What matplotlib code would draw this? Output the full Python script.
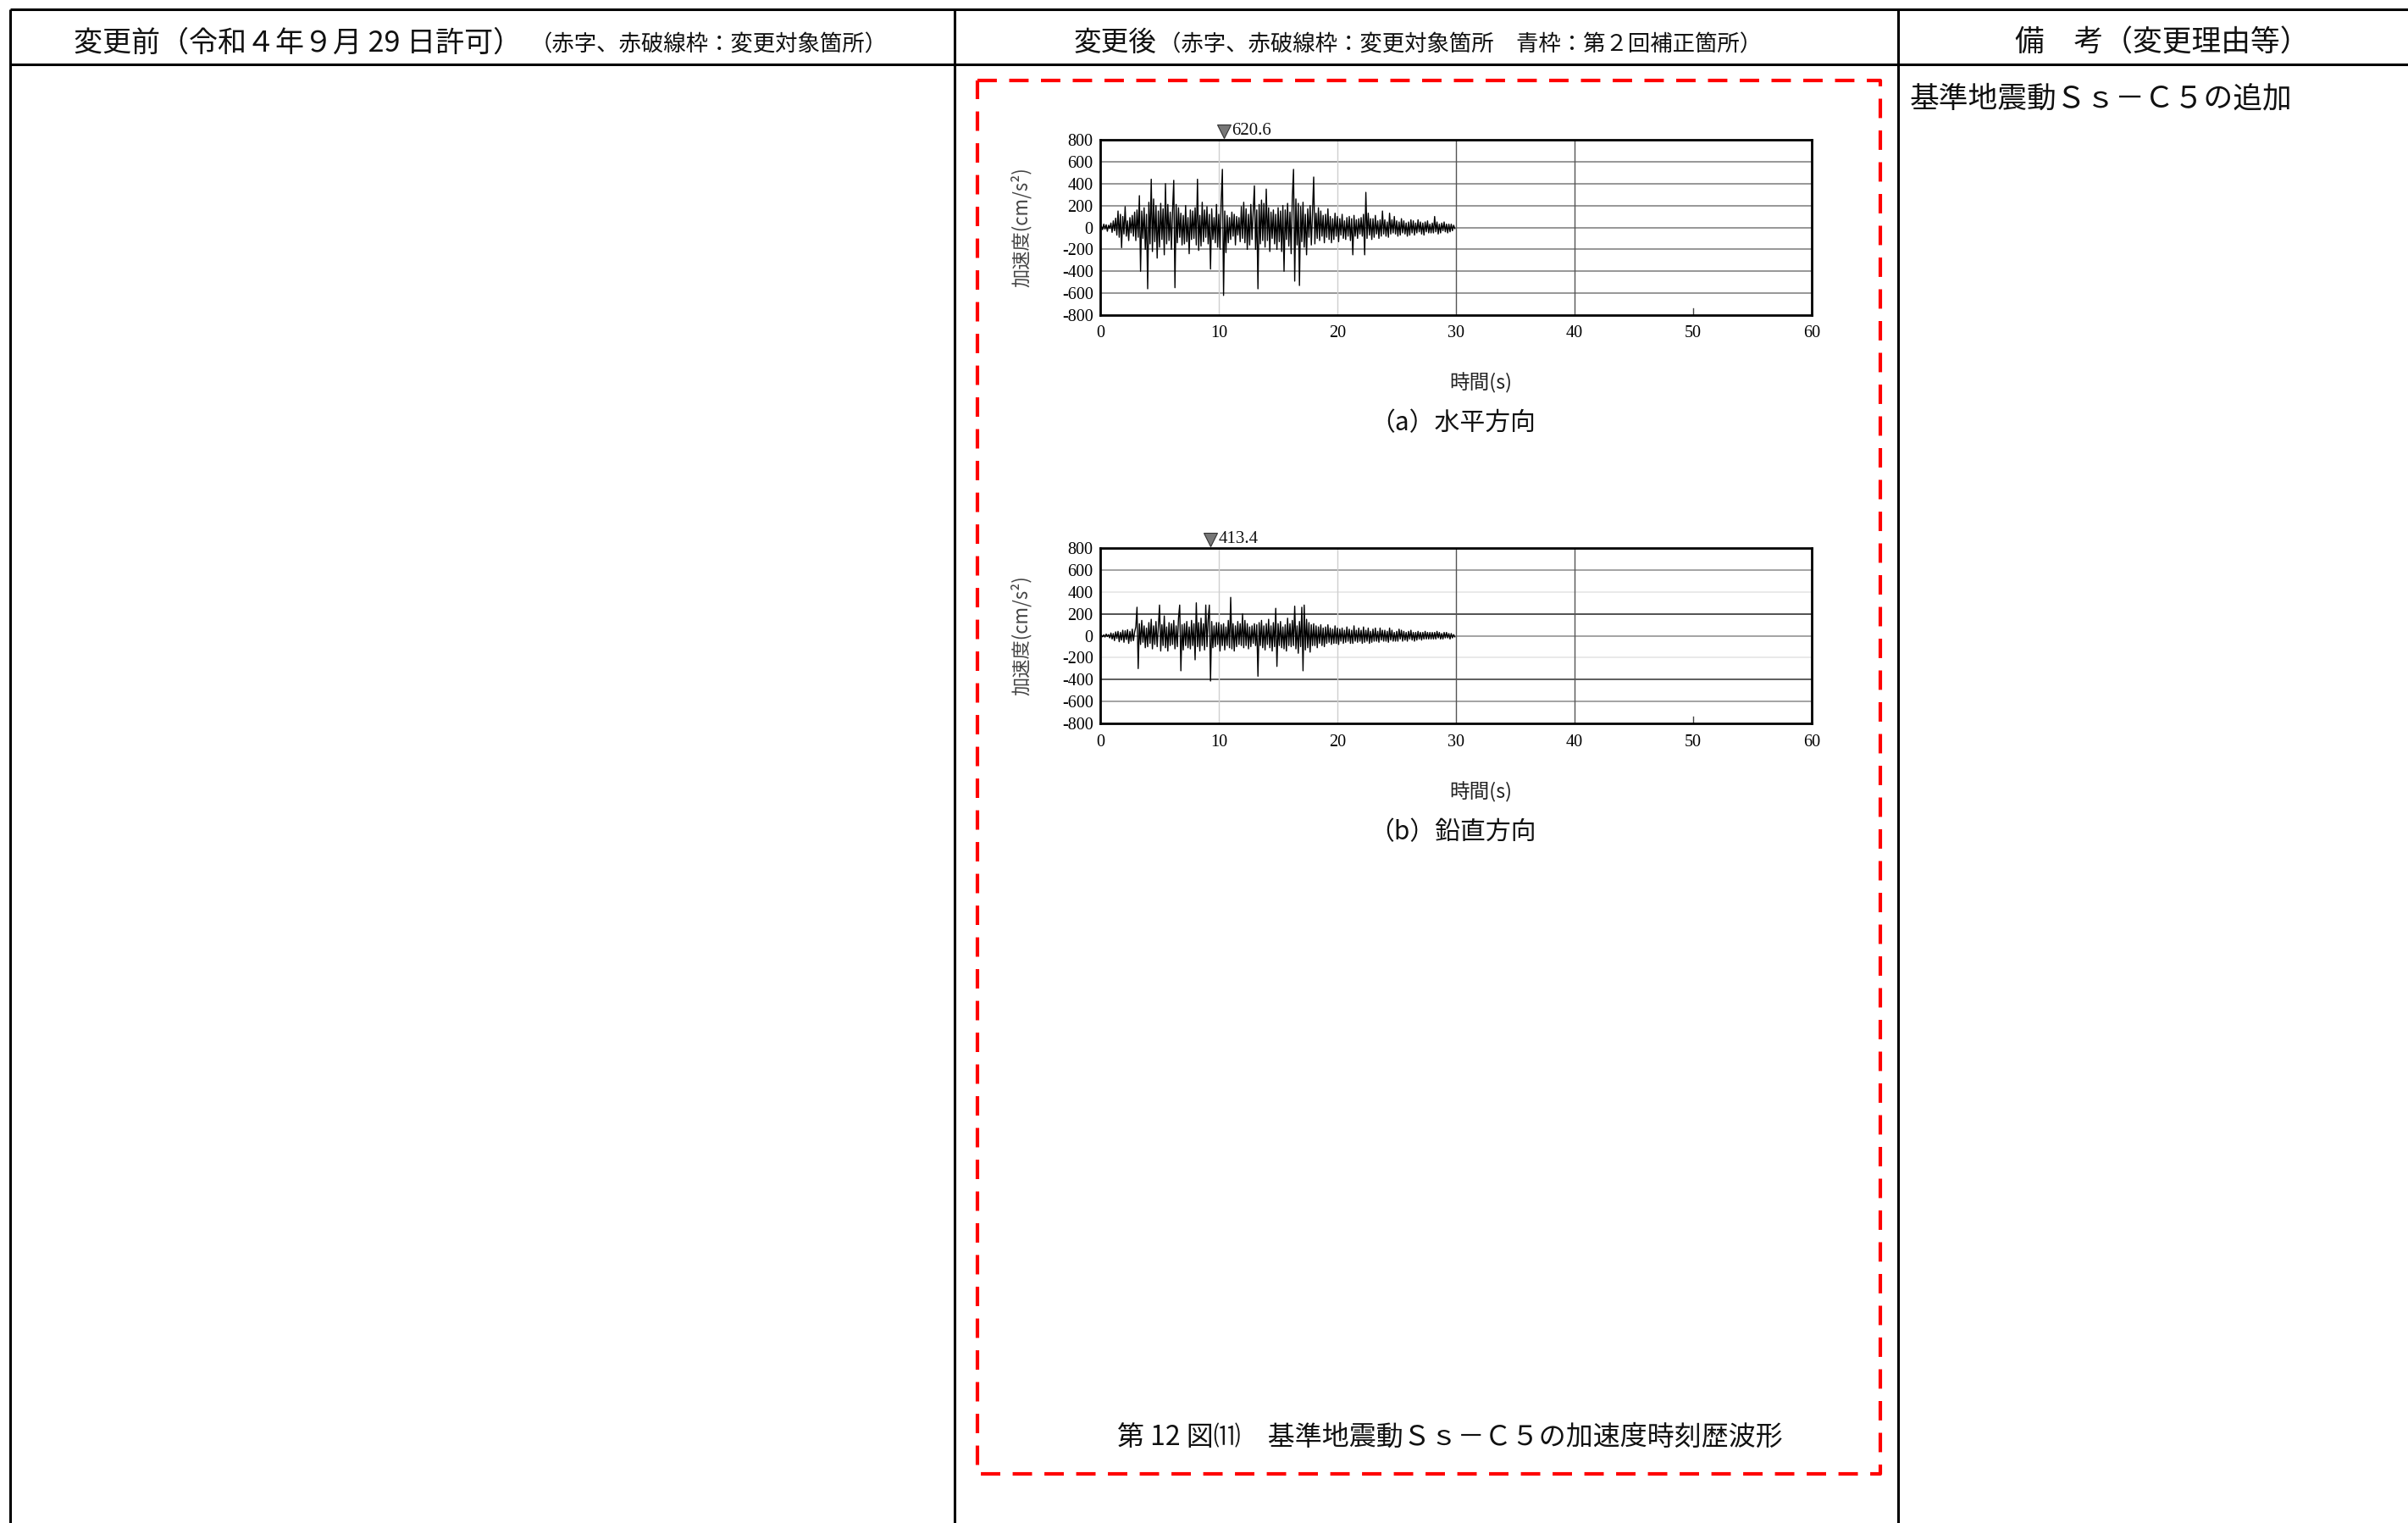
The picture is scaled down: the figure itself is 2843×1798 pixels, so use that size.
import numpy as np
import matplotlib
matplotlib.use("Agg")
import matplotlib.pyplot as plt

plt.rcParams['font.family'] = ['Noto Sans CJK JP', 'DejaVu Sans']

# ---------------- data ----------------
dt = 0.1  # sampling step (s)
horizontal_acc = [
    0, 12, -20, 30, -15, 25, -35, 20, -10, 40,
    -45, 60, -30, 85, -70, 150, -90, 120, -185, 100,
    -60, 190, -80, 60, -120, 90, -50, 110, -80, 140,
    -120, 160, -90, 290, -400, 150, -100, 180, -200, 120,
    -560, 230, -150, 440, -220, 260, -130, 200, -280, 150,
    -180, 220, -110, 170, -250, 400, -150, 210, -120, 140,
    -200, 160, 430, -550, 210, -140, 180, -90, 130, -160,
    110, -150, 200, -130, 90, -240, 160, -110, 150, -100,
    180, -160, 440, -210, 110, -170, 230, -130, 160, -90,
    190, -150, 120, -380, 170, -110, 90, -140, 210, -180,
    120, -200, 240, 530, -620.6, 150, -230, 110, -140, 90,
    -110, 140, -80, 120, -160, 100, -70, 90, -130, 190,
    -100, 230, -140, 170, -200, 120, -160, 210, -110, 150,
    380, -200, 160, -560, 210, -150, 250, -120, 220, -180,
    350, -120, 180, -220, 140, -100, 160, -150, 120, -200,
    180, -130, 150, -220, 200, -400, 160, -110, 220, -170,
    140, -240, 280, 530, -490, 260, -160, 220, -530, 190,
    -130, 230, -180, 120, -250, 170, -90, 200, -160, 130,
    460, -150, 130, -100, 180, -120, 150, -80, 110, -140,
    120, -90, 170, -110, 100, -140, 80, -110, 130, -80,
    100, -130, 80, -70, 120, -100, 60, -110, 90, -80,
    100, -120, 80, -250, 110, -80, 70, -100, 80, -60,
    90, -80, 120, -250, 320, -100, 130, -70, 80, -110,
    80, -90, 110, -60, 60, -100, 70, -80, 150, -60,
    70, -80, 50, -90, 130, -60, 70, -50, 100, -60,
    60, -80, 50, -70, 80, -50, 60, -60, 40, -80,
    50, -70, 70, -50, 60, -70, 40, -50, 70, -40,
    50, -60, 40, -70, 50, -40, 60, -50, 30, -50,
    40, -50, 100, -40, 50, -60, 30, -50, 40, -30,
    50, -40, 30, -50, 30, -40, 30, -30, 20, -10,
]
vertical_acc = [
    0, 5, -10, 8, -12, 15, -8, 10, -20, 25,
    -30, 20, -45, 35, -25, 40, -55, 30, -40, 50,
    -60, 45, -35, 55, -70, 40, -50, 60, -45, 35,
    80, 260, -300, 110, -80, 140, -60, 90, -110, 70,
    -100, 120, -70, 150, -120, 90, -80, 130, -100, 80,
    280, -140, 100, -90, 180, -110, 80, -140, 120, -90,
    110, -80, 140, -120, 90, -100, 160, 280, -320, 100,
    -130, 110, -90, 130, -110, 80, -120, 140, -90, 110,
    -220, 300, -100, 120, -140, 160, -90, 110, -130, 280,
    -100, 150, 280, -413.4, 130, -110, 90, -100, 120, -80,
    120, -140, 100, -90, 110, -130, 80, -90, 140, -110,
    350, -120, 110, -140, 90, -100, 130, -80, 110, -90,
    200, -110, 140, -90, 110, -120, 80, -100, 90, -70,
    110, -90, 100, -370, 120, -90, 140, -110, 90, -130,
    110, -80, 150, -110, 90, -140, 120, -100, 250, -280,
    110, -90, 130, -110, 80, -120, 100, -140, 160, -90,
    110, -100, 140, -90, 270, -120, 90, -160, 130, -100,
    260, -320, 280, -130, 150, -110, 120, -150, 100, -90,
    110, -90, 90, -110, 80, -70, 100, -90, 70, -100,
    80, -70, 100, -60, 70, -80, 60, -70, 90, -70,
    70, -80, 60, -50, 70, -70, 50, -60, 80, -50,
    60, -70, 50, -70, 90, -50, 50, -60, 70, -50,
    50, -70, 80, -60, 50, -50, 70, -70, 40, -60,
    60, -50, 70, -50, 40, -60, 70, -40, 50, -50,
    50, -50, 40, -60, 70, -40, 50, -50, 30, -50,
    40, -50, 60, -30, 50, -50, 40, -40, 30, -50,
    40, -30, 50, -40, 30, -50, 30, -40, 40, -30,
    30, -40, 30, -30, 40, -30, 30, -30, 30, -30,
    30, -30, 30, -30, 40, -20, 30, -30, 20, -30,
    30, -20, 30, -20, 20, -30, 20, -20, 10, -10,
]
x_ticks = [0, 10, 20, 30, 40, 50, 60]
y_ticks = [-800, -600, -400, -200, 0, 200, 400, 600, 800]

header_left = "変更前（令和４年９月 29 日許可）"
header_left_small = "（赤字、赤破線枠：変更対象箇所）"
header_mid = "変更後"
header_mid_small = "（赤字、赤破線枠：変更対象箇所　青枠：第２回補正箇所）"
header_right = "備　考（変更理由等）"
remark = "基準地震動Ｓｓ－Ｃ５の追加"
sub_a = "（a）水平方向"
sub_b = "（b）鉛直方向"
caption = "第 12 図⑾　基準地震動Ｓｓ－Ｃ５の加速度時刻歴波形"
xlabel = "時間(s)"
ylabel = "加速度(cm/s²)"

# ---------------- figure ----------------
W, H = 2843, 1798
DPI = 100
fig = plt.figure(figsize=(W / DPI, H / DPI), dpi=DPI)
fig.patch.set_facecolor("white")

ov = fig.add_axes([0, 0, 1, 1])
ov.set_xlim(0, W)
ov.set_ylim(H, 0)
ov.axis("off")

# table lines
lw_tab = 2.2
ov.plot([12, W + 5], [11, 11], color="black", lw=lw_tab, solid_capstyle="butt")
ov.plot([12, W + 5], [76, 76], color="black", lw=lw_tab, solid_capstyle="butt")
for xv in [12, 1127, 2241]:
    ov.plot([xv, xv], [11, H + 5], color="black", lw=lw_tab, solid_capstyle="butt")

# header texts
ov.text(87, 51, header_left, fontsize=24.5, ha="left", va="center", color="#111")
ov.text(626, 53, header_left_small, fontsize=19, ha="left", va="center", color="#111")
ov.text(1268, 51, header_mid, fontsize=23.5, ha="left", va="center", color="#111")
ov.text(1368, 53, header_mid_small, fontsize=19, ha="left", va="center", color="#111")
ov.text(2553, 51, header_right, fontsize=25, ha="center", va="center", color="#111")

# remark
ov.text(2255, 117, remark, fontsize=25, ha="left", va="center", color="#111")

# red dashed box
ov.plot([1154, 2220, 2220, 1154, 1154], [95, 95, 1740, 1740, 95],
        color="#ff0000", lw=3.0, linestyle=(0, (5.5, 3.5)))

# caption
ov.text(1712, 1697, caption, fontsize=23, ha="center", va="center", color="#111")

serif = ["Liberation Serif", "DejaVu Serif"]


def make_chart(y_top, y_bot, values, hgrid_colors, peak_label_fmt):
    x0, x1 = 1299, 2139
    ax = fig.add_axes([x0 / W, 1 - y_bot / H, (x1 - x0) / W, (y_bot - y_top) / H])
    ax.set_xlim(0, 60)
    ax.set_ylim(-800, 800)
    ax.set_facecolor("white")
    for yv, c in hgrid_colors.items():
        ax.axhline(yv, color=c, lw=1.1, zorder=1)
    vcolors = {10: "#cfcfcf", 20: "#cfcfcf", 30: "#555555", 40: "#555555"}
    for xv, c in vcolors.items():
        ax.axvline(xv, color=c, lw=1.0, zorder=1)
    ax.plot([50, 50], [-800, -740], color="#444", lw=1.0, zorder=1)
    t = np.arange(len(values)) * dt
    v = np.asarray(values, dtype=float)
    ax.plot(t, v, color="black", lw=1.0, zorder=3)
    ax.set_xticks(x_ticks)
    ax.set_yticks(y_ticks)
    ax.set_xticklabels([str(x) for x in x_ticks], fontfamily=serif, fontsize=14.5)
    ax.set_yticklabels([str(y) for y in y_ticks], fontfamily=serif, fontsize=14.5)
    ax.tick_params(axis="x", length=0, pad=9)
    ax.tick_params(axis="y", length=0, pad=6)
    for s in ax.spines.values():
        s.set_linewidth(2.0)
        s.set_color("black")
    k = int(np.argmax(np.abs(v)))
    tp, vp = t[k], abs(v[k])
    ax.plot([tp], [875], marker="v", markersize=12, color="#777777",
            markeredgecolor="#333333", markeredgewidth=0.8, clip_on=False, zorder=5)
    ax.text(tp + 0.7, 880, peak_label_fmt.format(vp), fontfamily=serif, fontsize=15,
            ha="left", va="center", color="#111", clip_on=False)
    yc = (y_top + y_bot) / 2
    ov.text(1206, yc, ylabel, rotation=90, fontsize=16, ha="center", va="center",
            color="#444")
    return ax


top_grid = {600: "#7a7a7a", 400: "#7a7a7a", 200: "#7a7a7a", 0: "#7a7a7a",
            -200: "#7a7a7a", -400: "#7a7a7a", -600: "#7a7a7a"}
bot_grid = {600: "#8a8a8a", 400: "#e3e3e3", 200: "#222222", 0: "#8a8a8a",
            -200: "#e3e3e3", -400: "#333333", -600: "#8a8a8a"}

make_chart(165, 372, horizontal_acc, top_grid, "{:.1f}")
make_chart(647, 854, vertical_acc, bot_grid, "{:.1f}")

ov.text(1748, 452, xlabel, fontsize=17, ha="center", va="center", color="#222")
ov.text(1748, 935, xlabel, fontsize=17, ha="center", va="center", color="#222")
ov.text(1715, 500, sub_a, fontsize=21.5, ha="center", va="center", color="#111")
ov.text(1715, 983, sub_b, fontsize=21.5, ha="center", va="center", color="#111")

fig.savefig("out.png", dpi=DPI, facecolor="white")
